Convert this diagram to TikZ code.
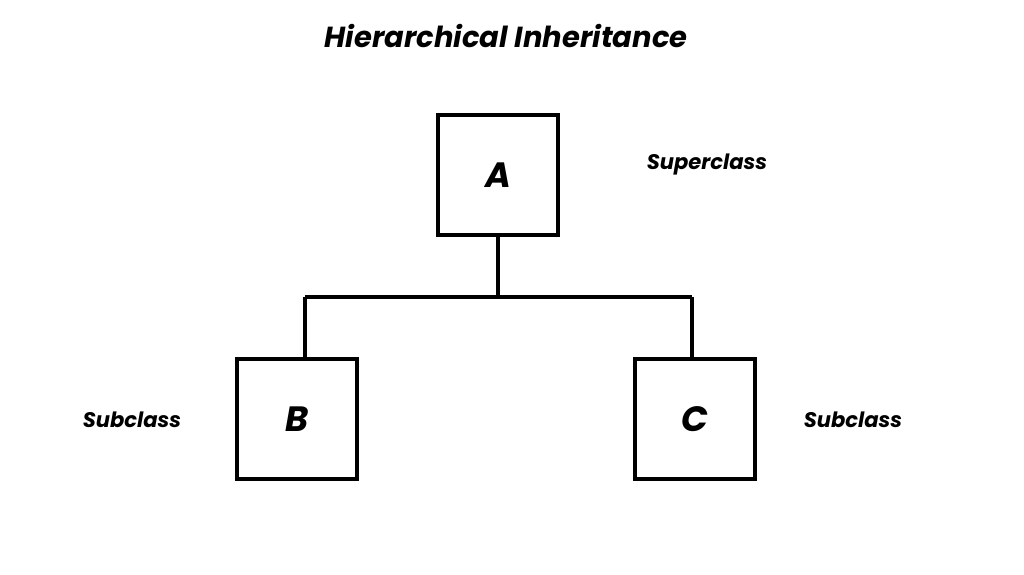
\documentclass[tikz,border=0pt]{standalone}
\usepackage{fontspec}
\setmainfont{Poppins}
\usetikzlibrary{positioning,calc}
\begin{document}
\begin{tikzpicture}[
    line width=2pt,
    cls/.style={draw, minimum width=2.4cm, minimum height=2.4cm, inner sep=0pt,
      font=\bfseries\itshape\fontsize{20}{24}\selectfont},
    rolelabel/.style={font=\bfseries\itshape\fontsize{12}{14}\selectfont}
  ]
  \useasboundingbox (0,0) rectangle (20.48,11.5);
  \node[font=\bfseries\itshape\fontsize{16.5}{20}\selectfont] (title) at (10.12,10.78) {Hierarchical Inheritance};
  \node[cls] (A) at (9.96,8.00) {A};
  \node[cls] (B) at (5.94,3.12) {B};
  \node[cls] (C) at (13.90,3.12) {C};
  \node[rolelabel] (sup) at (14.14,8.2) {Superclass};
  \node[rolelabel] (subB) at (2.64,3.1) {Subclass};
  \node[rolelabel] (subC) at (17.06,3.1) {Subclass};

  \coordinate (mid) at (A.south |- 0,5.56);
  \coordinate (bl) at (6.10,5.56);
  \coordinate (br) at (13.84,5.56);
  \draw (A.south) -- (mid);
  \draw (bl) -- (br);
  \draw (bl) -- (bl |- B.north);
  \draw (br) -- (br |- C.north);
\end{tikzpicture}
\end{document}
